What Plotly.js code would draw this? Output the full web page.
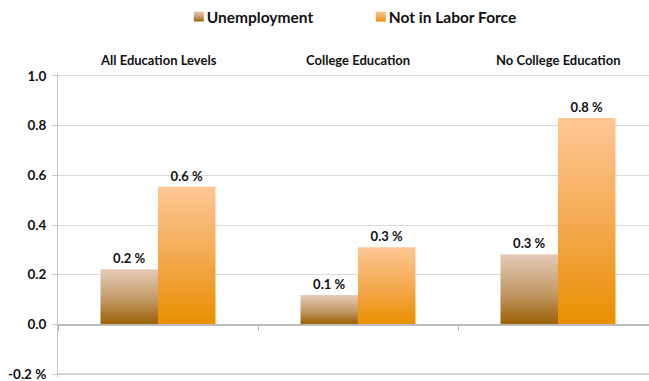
<!DOCTYPE html>
<html>
<head>
<meta charset="utf-8">
<script src="https://cdn.plot.ly/plotly-3.0.1.min.js"></script>
<style>html,body{margin:0;padding:0;background:#fff;}</style>
</head>
<body>
<div id="chart" style="width:649px;height:381px;"></div>
<script>
const categories = ["All Education Levels", "College Education", "No College Education"];
const unemployment = [0.222, 0.118, 0.282];
const notInLaborForce = [0.554, 0.31, 0.831];
const unemploymentLabels = ["0.2 %", "0.1 %", "0.3 %"];
const nilfLabels = ["0.6 %", "0.3 %", "0.8 %"];
const yTickVals = [-0.2, 0.0, 0.2, 0.4, 0.6, 0.8, 1.0];
const yTickText = ["-0.2 %", "0.0", "0.2", "0.4", "0.6", "0.8", "1.0"];
const yRange = [-0.212, 1.012];

const FONT = "Lato, 'Open Sans', 'DejaVu Sans', sans-serif";
const labelFont = {family: FONT, size: 13, color: "#111", weight: 700};

const traces = [
  {type: "bar", name: "Unemployment", x: categories, y: unemployment,
   text: unemploymentLabels, textposition: "outside", textfont: labelFont,
   cliponaxis: false, marker: {color: "#bf9259", line: {width: 0}}, hoverinfo: "none"},
  {type: "bar", name: "Not in Labor Force", x: categories, y: notInLaborForce,
   text: nilfLabels, textposition: "outside", textfont: labelFont,
   cliponaxis: false, marker: {color: "#f3a950", line: {width: 0}}, hoverinfo: "none"}
];

const layout = {
  width: 649, height: 381,
  margin: {l: 58, r: 0, t: 71, b: 4},
  paper_bgcolor: "#fff", plot_bgcolor: "#fff",
  barmode: "group", bargap: 0.425, bargroupgap: 0,
  font: {family: FONT, size: 12, color: "#111"},
  showlegend: true,
  legend: {orientation: "h", x: 0.2044, xanchor: "left", y: 1.186, yanchor: "middle",
           entrywidth: 137, entrywidthmode: "pixels",
           font: {family: FONT, size: 15.5, color: "#111", weight: 700}, traceorder: "normal"},
  xaxis: {type: "category", range: [-0.5, 2.455], anchor: "free",
          position: (0 - yRange[0]) / (yRange[1] - yRange[0]),
          showline: true, linecolor: "#bdbdbd", linewidth: 1.5,
          ticks: "outside", tickson: "boundaries", ticklen: 5, tickcolor: "#bdbdbd",
          showticklabels: false, showgrid: false, zeroline: false, fixedrange: true},
  yaxis: {range: yRange, tickvals: yTickVals, ticktext: yTickText,
          showline: true, linecolor: "#c8c8c8", linewidth: 1,
          ticks: "outside", ticklen: 5, tickcolor: "#c8c8c8", ticklabelstandoff: 3,
          ticklabeloverflow: "allow",
          showgrid: true, gridcolor: "#d9d9d9", gridwidth: 1, zeroline: false,
          tickfont: {family: FONT, size: 13.5, color: "#111", weight: 700}, fixedrange: true},
  shapes: [{type: "line", layer: "above", xref: "paper", x0: 0, x1: 1,
            yref: "y", y0: yTickVals[0], y1: yTickVals[0],
            line: {color: "#cdcdcd", width: 1.5}}],
  annotations: categories.map((c, i) => ({
    text: c, x: c, xref: "x", y: 1, yref: "paper", yanchor: "middle", yshift: 13,
    showarrow: false, font: {family: FONT, size: 13, color: "#111", weight: 700}
  }))
};

function applyGradients(gd) {
  const svg = gd.querySelector("svg.main-svg");
  if (!svg) return;
  let defs = svg.querySelector("defs");
  if (!defs) { defs = document.createElementNS("http://www.w3.org/2000/svg", "defs"); svg.insertBefore(defs, svg.firstChild); }
  const grads = [
    {id: "gradUnemp", stops: [["0%", "#e5cab7"], ["55%", "#c29a68"], ["100%", "#9a6003"]]},
    {id: "gradNilf", stops: [["0%", "#fec796"], ["55%", "#f3a74a"], ["100%", "#e99000"]]}
  ];
  grads.forEach(g => {
    if (defs.querySelector("#" + g.id)) return;
    const lg = document.createElementNS("http://www.w3.org/2000/svg", "linearGradient");
    lg.setAttribute("id", g.id);
    lg.setAttribute("x1", "0"); lg.setAttribute("y1", "0");
    lg.setAttribute("x2", "0"); lg.setAttribute("y2", "1");
    g.stops.forEach(s => {
      const st = document.createElementNS("http://www.w3.org/2000/svg", "stop");
      st.setAttribute("offset", s[0]); st.setAttribute("stop-color", s[1]);
      lg.appendChild(st);
    });
    defs.appendChild(lg);
  });
  gd.querySelectorAll(".barlayer .trace").forEach((t, i) => {
    t.querySelectorAll(".point path").forEach(p => { p.style.fill = "url(#" + grads[i].id + ")"; });
  });
  gd.querySelectorAll(".legend .traces").forEach((t, i) => {
    t.querySelectorAll(".legendpoints path").forEach(p => {
      p.setAttribute("d", "M5,5H-5V-5H5Z");
      p.style.fill = "url(#" + grads[i].id + ")";
    });
    const txt = t.querySelector("text.legendtext");
    if (txt) txt.setAttribute("x", "28");
  });
}

const gd = document.getElementById("chart");
Plotly.newPlot(gd, traces, layout, {displayModeBar: false, staticPlot: true}).then(() => {
  applyGradients(gd);
});
</script>
</body>
</html>
